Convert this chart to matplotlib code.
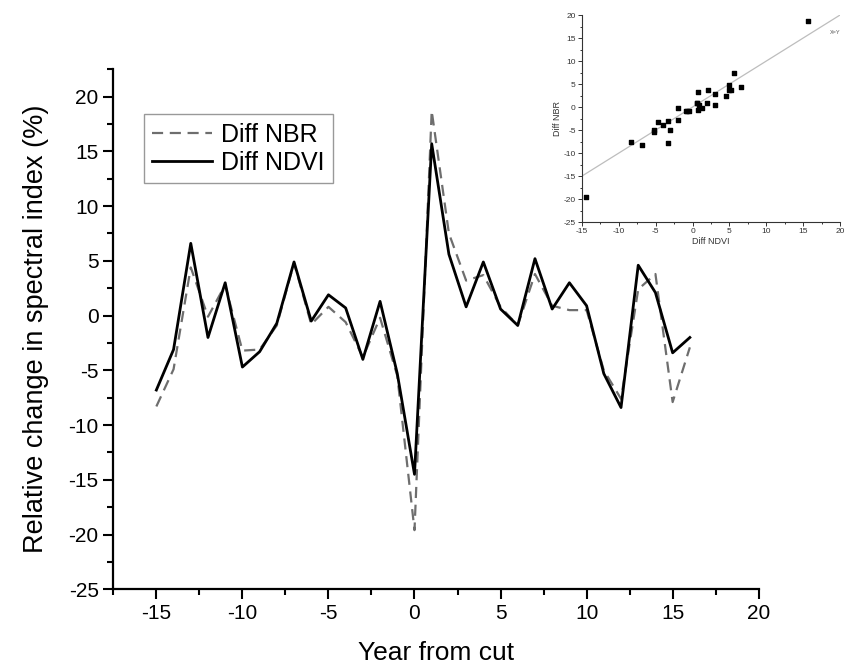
import numpy as np
import matplotlib.pyplot as plt
from matplotlib.ticker import MultipleLocator

plt.rcParams['font.family'] = ['Liberation Sans', 'DejaVu Sans']
plt.rcParams['axes.unicode_minus'] = False

# years relative to the cut
years = list(range(-15, 17))

# relative change (%)
diff_ndvi = [-6.8, -3.1, 6.6, -2.0, 3.0, -4.7, -3.3, -0.7, 4.9, -0.5, 1.9, 0.7,
             -4.0, 1.3, -5.3, -14.5, 15.7, 5.6, 0.8, 4.9, 0.6, -0.9, 5.2, 0.6,
             3.0, 0.9, -5.3, -8.4, 4.6, 2.1, -3.4, -2.0]
diff_nbr = [-8.3, -4.9, 4.4, -0.1, 2.8, -3.2, -3.1, -0.9, 4.8, -0.8, 0.8, -0.6,
            -3.8, -0.2, -5.5, -19.6, 18.7, 7.5, 3.2, 3.7, 0.8, -0.9, 3.8, 0.9,
            0.5, 0.5, -5.0, -7.6, 2.4, 3.8, -7.9, -2.9]

fig = plt.figure(figsize=(8.54, 6.72), dpi=100)
ax = fig.add_axes([0.1327, 0.1231, 0.7557, 0.7738])

ax.plot(years, diff_nbr, color='#6e6e6e', lw=1.6, ls=(0, (5, 3)), label='Diff NBR')
ax.plot(years, diff_ndvi, color='black', lw=2.0, label='Diff NDVI')

ax.set_xlim(-17.5, 20)
ax.set_ylim(-25, 22.5)
ax.xaxis.set_minor_locator(MultipleLocator(2.5))
ax.yaxis.set_minor_locator(MultipleLocator(2.5))
ax.set_xticks([-15, -10, -5, 0, 5, 10, 15, 20])
ax.set_yticks(range(-25, 21, 5))
ax.tick_params(which='major', direction='out', length=7, width=1.5, labelsize=15)
ax.tick_params(which='minor', direction='out', length=4, width=1.5)
for s in ['top', 'right']:
    ax.spines[s].set_visible(False)
for s in ['left', 'bottom']:
    ax.spines[s].set_linewidth(1.6)
ax.set_xlabel('Year from cut', fontsize=19, labelpad=13)
ax.set_ylabel('Relative change in spectral index (%)', fontsize=19.5, labelpad=14)

leg = ax.legend(loc='upper left', bbox_to_anchor=(0.047, 0.914), fontsize=18,
                fancybox=False, framealpha=1, edgecolor='#999999',
                handlelength=2.4, handletextpad=0.35, borderpad=0.35,
                labelspacing=0.15, borderaxespad=0)
leg.get_frame().set_linewidth(1.0)

# inset scatter NDVI vs NBR
ins = fig.add_axes([0.6815, 0.6696, 0.3021, 0.3080])
ins.plot([-15, 20], [-15, 20], color='#bdbdbd', lw=0.9)
ins.scatter(diff_ndvi, diff_nbr, marker='s', s=11, color='black', zorder=3)
ins.text(19.3, 16.3, 'X=Y', fontsize=4, color='#555555', ha='center', va='center')
ins.set_xlim(-15, 20)
ins.set_ylim(-25, 20)
ins.xaxis.set_major_locator(MultipleLocator(5))
ins.xaxis.set_minor_locator(MultipleLocator(2.5))
ins.yaxis.set_major_locator(MultipleLocator(5))
ins.yaxis.set_minor_locator(MultipleLocator(2.5))
ins.tick_params(which='major', direction='out', length=3, width=0.7, labelsize=6,
                colors='#333333', pad=1.5)
ins.tick_params(which='minor', direction='out', length=1.5, width=0.7, colors='#333333')
for s in ['top', 'right']:
    ins.spines[s].set_visible(False)
for s in ['left', 'bottom']:
    ins.spines[s].set_linewidth(0.8)
    ins.spines[s].set_color('#333333')
ins.set_xlabel('Diff NDVI', fontsize=6.5, labelpad=1, color='#333333')
ins.set_ylabel('Diff NBR', fontsize=6.5, labelpad=1, color='#333333')

plt.savefig('out.png', dpi=100)
